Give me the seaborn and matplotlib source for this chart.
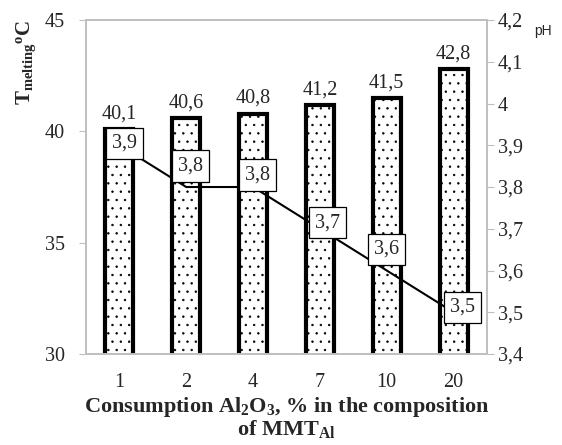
import matplotlib
matplotlib.use("Agg")
import matplotlib.pyplot as plt
import seaborn as sns
import pandas as pd

categories = ["1", "2", "4", "7", "10", "20"]
t_melting = [40.1, 40.6, 40.8, 41.2, 41.5, 42.8]
ph_values = [3.9, 3.8, 3.8, 3.7, 3.6, 3.5]
left_ticks = [30, 35, 40, 45]
right_ticks = [3.4, 3.5, 3.6, 3.7, 3.8, 3.9, 4.0, 4.1, 4.2]

sns.set_style("white")
plt.rcParams['font.family'] = ['Liberation Serif', 'DejaVu Serif']
plt.rcParams['hatch.linewidth'] = 0.5
plt.rcParams['mathtext.fontset'] = 'custom'
plt.rcParams['mathtext.rm'] = 'Liberation Serif'
plt.rcParams['mathtext.bf'] = 'Liberation Serif:bold'
plt.rcParams['mathtext.it'] = 'Liberation Serif:italic'

df = pd.DataFrame({"cat": categories, "t": t_melting, "ph": ph_values})

fig = plt.figure(figsize=(5.62, 4.45), dpi=100)
ax = fig.add_axes([0.153, 0.2045, 0.7135, 0.7505])

sns.barplot(data=df, x="cat", y="t", order=categories, ax=ax, width=0.42,
            color="white", edgecolor="black", linewidth=3, hatch="..")
for p in ax.patches:
    p.set_facecolor("white")
    p.set_edgecolor("black")

ax.set_ylim(30, 45)
ax.set_xlim(-0.5, 5.5)
ax.set_yticks(left_ticks)
ax.set_yticklabels([str(v) for v in left_ticks], fontsize=14.5)
ax.set_xticks(range(len(categories)))
ax.set_xticklabels(categories, fontsize=14.5)
ax.set_xticks([i - 0.5 for i in range(len(categories) + 1)], minor=True)
ax.tick_params(axis="x", which="major", length=0, pad=14)
ax.tick_params(axis="x", which="minor", length=5, color="#bfbfbf", direction="out")
ax.tick_params(axis="y", length=5, color="#bfbfbf", direction="out", left=True, pad=10)

for sp in ax.spines.values():
    sp.set_color("#bfbfbf")
    sp.set_linewidth(1.2)

for i, v in enumerate(t_melting):
    ax.annotate(f"{v:.1f}".replace(".", ","), (i, v), xytext=(0, 4),
                textcoords="offset points", ha="center", va="bottom", fontsize=14.5)

ax.set_xlabel("Consumption Al$_\\mathbf{2}$O$_\\mathbf{3}$, % in the composition\nof MMT$_\\mathbf{Al}$",
              fontsize=16, fontweight="bold", linespacing=0.95, labelpad=2)
ax.set_ylabel("T$_\\mathbf{melting}$$^\\mathbf{o}$C", fontsize=15, fontweight="bold")
ax.yaxis.set_label_coords(-0.12, 0.874)

ax2 = ax.twinx()
xpos = list(range(len(categories)))
ax2.plot(xpos, ph_values, color="black", linewidth=1.5)
ax2.set_ylim(3.4, 4.2)
ax2.set_yticks(right_ticks)
ax2.set_yticklabels([f"{v:g}".replace(".", ",") for v in right_ticks], fontsize=14.5)
ax2.tick_params(axis="y", length=5, color="#bfbfbf", direction="out", right=True, pad=3)
for sp in ax2.spines.values():
    sp.set_color("#bfbfbf")
    sp.set_linewidth(1.2)

offsets_px = [(5, 2), (4, 21), (4, 12), (8, 6), (0, 21), (9, 5)]
for i, v in enumerate(ph_values):
    dx, dy = offsets_px[i]
    ax2.annotate(f"{v:.1f}".replace(".", ","), (i, v), xytext=(dx * 0.72, dy * 0.72),
                 textcoords="offset points", ha="center", va="center", fontsize=14.5,
                 bbox=dict(boxstyle="square,pad=0.3", fc="white", ec="black", lw=0.9))

fig.text(0.966, 0.93, "pH", fontsize=10, family=["Liberation Sans", "DejaVu Sans"],
         ha="center", va="center")

fig.savefig("out.png", dpi=100)
